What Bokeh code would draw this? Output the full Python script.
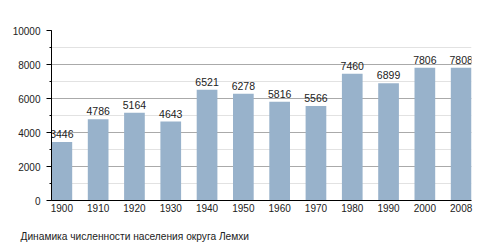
from bokeh.plotting import figure
from bokeh.models import ColumnDataSource, SingleIntervalTicker, FixedTicker, Range1d, Title
from bokeh.core.properties import value
from bokeh.embed import file_html
from bokeh.resources import INLINE

years = ["1900", "1910", "1920", "1930", "1940", "1950", "1960", "1970", "1980", "1990", "2000", "2008"]
population = [3446, 4786, 5164, 4643, 6521, 6278, 5816, 5566, 7460, 6899, 7806, 7808]
title_text = "Динамика численности населения округа Лемхи"

FONT = "Liberation Sans"
TXT = "#222222"

idx = list(range(len(years)))
src = ColumnDataSource(dict(x=idx, y=population, lab=[str(v) for v in population]))

p = figure(output_backend="svg", toolbar_location=None,
           frame_width=420, frame_height=170,
           x_range=Range1d(-0.285, len(years) - 1 + 0.285), y_range=Range1d(0, 10000),
           min_border_left=51, min_border_right=29, min_border_top=30, min_border_bottom=0)
p.outline_line_color = None
p.background_fill_color = "white"

p.vbar(x="x", top="y", width=0.57, source=src, fill_color="#98b2cb", line_color=None)
p.text(x="x", y="y", text="lab", source=src, text_align="center", text_baseline="bottom",
       y_offset=-4, text_font=value(FONT), text_font_size="10.5px", text_color=TXT)

# y axis
p.yaxis.ticker = SingleIntervalTicker(interval=2000, num_minor_ticks=2)
p.yaxis.axis_line_color = "black"
p.yaxis.major_tick_line_color = "black"
p.yaxis.minor_tick_line_color = "black"
p.yaxis.major_tick_out = 5
p.yaxis.major_tick_in = 0
p.yaxis.minor_tick_out = 2
p.yaxis.minor_tick_in = 0
p.yaxis.major_label_standoff = 6
p.yaxis.major_label_text_font = FONT
p.yaxis.major_label_text_font_size = "10px"
p.yaxis.major_label_text_color = TXT

# x axis
p.xaxis.ticker = FixedTicker(ticks=idx)
p.xaxis.major_label_overrides = {i: y for i, y in zip(idx, years)}
p.xaxis.axis_line_color = "black"
p.xaxis.major_tick_line_color = None
p.xaxis.major_tick_out = 0
p.xaxis.major_tick_in = 0
p.xaxis.minor_tick_line_color = None
p.xaxis.major_label_standoff = 3
p.xaxis.major_label_text_font = FONT
p.xaxis.major_label_text_font_size = "10px"
p.xaxis.major_label_text_color = TXT

# grids
p.xgrid.grid_line_color = None
p.ygrid.grid_line_color = "#aaaaaa"
p.ygrid.minor_grid_line_color = "#e2e2e2"

t = Title(text=title_text, align="left", offset=-31, text_font=FONT, text_font_size="10.2px",
          text_font_style="normal", text_color=TXT, standoff=29)
p.add_layout(t, "below")

open("out.html", "w").write(file_html(p, INLINE))
